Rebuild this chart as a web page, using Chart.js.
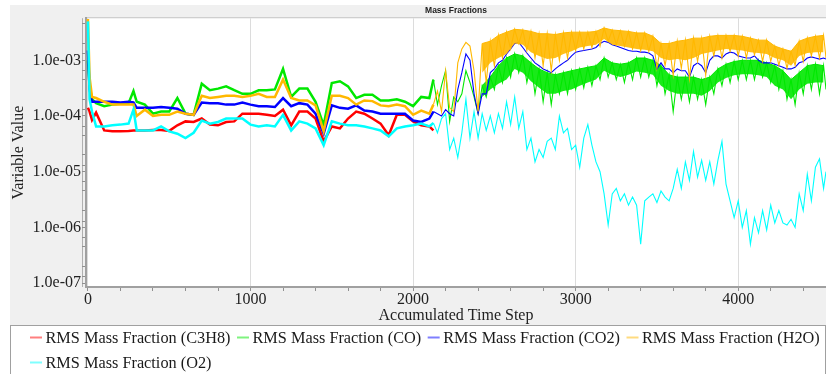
<!DOCTYPE html>
<html lang="en">
  <head>
    <meta charset="UTF-8" />
    <title>Mass Fractions</title>
    <script src="https://cdn.jsdelivr.net/npm/chart.js"></script>
    <style>
      html, body { margin: 0; padding: 0; background: #fff; }
    </style>
  </head>
  <body>
    <canvas id="massChart" width="826" height="374"></canvas>

    <script>
      // accumulated time steps (coarse before 2125, dense after)
      const steps = [
        0, 10, 25, 50, 100, 150, 200, 250, 280,
        300, 350, 400, 450, 500, 550, 600, 650,
        700, 750, 800, 850, 900, 950, 1000, 1050,
        1100, 1150, 1200, 1250, 1300, 1350, 1400, 1450,
        1500, 1550, 1600, 1650, 1700, 1750, 1800, 1850,
        1900, 1950, 2000, 2050, 2100,
        2125, 2150, 2175, 2200, 2225, 2250, 2275, 2300,
        2325, 2350, 2375, 2400, 2425, 2450, 2475, 2500,
        2525, 2550, 2575, 2600, 2625, 2650, 2675, 2700,
        2725, 2750, 2775, 2800, 2825, 2850, 2875, 2900,
        2925, 2950, 2975, 3000, 3025, 3050, 3075, 3100,
        3125, 3150, 3175, 3200, 3225, 3250, 3275, 3300,
        3325, 3350, 3375, 3400, 3425, 3450, 3475, 3500,
        3525, 3550, 3575, 3600, 3625, 3650, 3675, 3700,
        3725, 3750, 3775, 3800, 3825, 3850, 3875, 3900,
        3925, 3950, 3975, 4000, 4025, 4050, 4075, 4100,
        4125, 4150, 4175, 4200, 4225, 4250, 4275, 4300,
        4325, 4350, 4375, 4400, 4425, 4450, 4475, 4500,
        4525, 4540,
      ];

      // C3H8 stops after step 2125
      const c3h8 = [
        1.4e-4, 1.2e-4, 8.5e-5, 1.15e-4, 5.5e-5, 5.3e-5, 5.3e-5, 5.4e-5, 5.5e-5,
        5.5e-5, 5.5e-5, 5.6e-5, 5.6e-5, 5.4e-5, 6.8e-5, 8e-5, 7.8e-5,
        9e-5, 7e-5, 6.8e-5, 7.8e-5, 8e-5, 1.1e-4, 1.1e-4, 1.1e-4,
        1.05e-4, 1.0e-4, 1.3e-4, 6.8e-5, 1.2e-4, 1.2e-4, 9e-5, 3.5e-5,
        6.5e-5, 6e-5, 9e-5, 1.2e-4, 1.1e-4, 9e-5, 7.3e-5, 4.5e-5,
        1.05e-4, 1.05e-4, 8e-5, 6.8e-5, 6.5e-5,
        5.5e-5,
      ];

      const co = [
        1.0e-3, 3.5e-4, 2.0e-4, 1.7e-4, 1.5e-4, 1.6e-4, 1.65e-4, 1.7e-4, 2.8e-4,
        1.8e-4, 1.6e-4, 1.1e-4, 1.2e-4, 1.2e-4, 2.1e-4, 1.1e-4, 1.05e-4,
        3.8e-4, 2.9e-4, 3.1e-4, 3.4e-4, 2.9e-4, 2.5e-4, 2.5e-4, 2.9e-4,
        2.9e-4, 3.0e-4, 7e-4, 2.2e-4, 3.1e-4, 3.1e-4, 1.8e-4, 6.8e-5,
        3.9e-4, 4.2e-4, 3.4e-4, 2.1e-4, 2.4e-4, 2.4e-4, 1.9e-4, 1.9e-4,
        2.0e-4, 1.8e-4, 1.5e-4, 2.2e-4, 2.1e-4,
        4.5e-4, 1.6e-4, 3.5e-4, 6.5e-4, 8e-5, 2.2e-4, 1.8e-4, 2.5e-4,
        6.5e-4, 4e-4, 2.2e-4, 1.1e-4, 3.5e-4, 2.2e-4, 5e-4, 3e-4,
        8e-4, 4e-4, 1.1e-3, 5e-4, 1.3e-3, 6e-4, 1.2e-3, 4e-4,
        9e-4, 2.5e-4, 7e-4, 1.8e-4, 6e-4, 1.6e-4, 5.5e-4, 2.5e-4,
        6e-4, 2.5e-4, 6.5e-4, 3e-4, 7e-4, 3.2e-4, 7.5e-4, 3.5e-4,
        8e-4, 4.5e-4, 1.1e-3, 5e-4, 9e-4, 4.5e-4, 8.5e-4, 4e-4,
        9e-4, 4.5e-4, 1.1e-3, 5e-4, 1.1e-3, 5e-4, 1e-3, 3.5e-4,
        8e-4, 2.5e-4, 5.5e-4, 1.2e-4, 5e-4, 2e-4, 5e-4, 1.8e-4,
        5e-4, 2e-4, 4.5e-4, 1.6e-4, 5e-4, 2.5e-4, 7e-4, 3.5e-4,
        8.5e-4, 4e-4, 9.5e-4, 4.5e-4, 1e-3, 4.5e-4, 1e-3, 4.5e-4,
        1e-3, 5e-4, 9e-4, 4e-4, 8e-4, 3e-4, 6.5e-4, 2e-4,
        4.5e-4, 1.6e-4, 6e-4, 2.5e-4, 8e-4, 3e-4, 8.5e-4, 2.5e-4,
        8e-4, 3e-4,
      ];

      const co2 = [
        1.5e-3, 3e-4, 1.8e-4, 1.8e-4, 1.8e-4, 1.8e-4, 1.75e-4, 1.8e-4, 1.75e-4,
        1.4e-4, 1.4e-4, 1.4e-4, 1.45e-4, 1.4e-4, 1.35e-4, 1.1e-4, 1.05e-4,
        1.75e-4, 1.7e-4, 1.7e-4, 1.6e-4, 1.6e-4, 1.75e-4, 1.6e-4, 1.5e-4,
        1.5e-4, 1.45e-4, 2.1e-4, 1.5e-4, 1.7e-4, 1.6e-4, 1.1e-4, 4.8e-5,
        1.55e-4, 1.4e-4, 1.35e-4, 1.55e-4, 1.25e-4, 1.2e-4, 1.1e-4, 1.1e-4,
        1.1e-4, 1.1e-4, 8.3e-5, 7.8e-5, 9e-5,
        1.2e-4, 1.1e-4, 1.0e-4, 1.3e-4, 1.1e-4, 1.0e-4, 3e-4, 6e-4,
        1.3e-3, 1e-3, 2.5e-4, 1.1e-4, 2.5e-4, 2.5e-4, 6e-4, 7e-4,
        9e-4, 1.0e-3, 1.3e-3, 1.6e-3, 2.0e-3, 2.1e-3, 1.7e-3, 1.35e-3,
        1.1e-3, 9e-4, 8e-4, 7e-4, 6.5e-4, 6e-4, 7e-4, 8e-4,
        9e-4, 1.0e-3, 1.2e-3, 1.4e-3, 1.45e-3, 1.5e-3, 1.55e-3, 1.6e-3,
        1.7e-3, 2.0e-3, 2.2e-3, 2.1e-3, 1.9e-3, 1.8e-3, 1.7e-3, 1.6e-3,
        1.5e-3, 1.45e-3, 1.45e-3, 1.4e-3, 1.4e-3, 1.35e-3, 1.2e-3, 7e-4,
        9e-4, 7e-4, 7e-4, 6e-4, 7e-4, 6.5e-4, 6.5e-4, 5e-4,
        8e-4, 9e-4, 8e-4, 6e-4, 1.0e-3, 1.2e-3, 1.2e-3, 1.1e-3,
        1.3e-3, 1.4e-3, 1.35e-3, 1.2e-3, 1.15e-3, 1.1e-3, 1.1e-3, 1.2e-3,
        1.0e-3, 9e-4, 9e-4, 9e-4, 8.5e-4, 8e-4, 7.5e-4, 7e-4,
        7e-4, 7.5e-4, 9e-4, 9.5e-4, 1.1e-3, 1.15e-3, 1.1e-3, 1.05e-3,
        1.1e-3, 1.05e-3,
      ];

      const h2o = [
        5.5e-3, 5e-4, 2.2e-4, 2.1e-4, 1.8e-4, 1.6e-4, 1.6e-4, 1.6e-4, 1.6e-4,
        1.0e-4, 1.3e-4, 1.0e-4, 1.05e-4, 1.05e-4, 1.2e-4, 1.1e-4, 1.05e-4,
        2.3e-4, 2.1e-4, 2.2e-4, 2.3e-4, 2.3e-4, 2.2e-4, 2.3e-4, 2.5e-4,
        2.2e-4, 2.2e-4, 4.5e-4, 2.1e-4, 1.9e-4, 1.9e-4, 1.55e-4, 5.3e-5,
        2.3e-4, 2.3e-4, 2.1e-4, 1.6e-4, 1.9e-4, 1.85e-4, 1.55e-4, 1.5e-4,
        1.6e-4, 1.5e-4, 1.05e-4, 1.25e-4, 1.1e-4,
        1.6e-4, 2.8e-4, 1.2e-4, 6.5e-4, 1.4e-4, 1.2e-4, 9e-4, 1.6e-3,
        2.1e-3, 1.8e-3, 6.5e-4, 1.2e-4, 2.0e-3, 4e-4, 2.2e-3, 8e-4,
        2.8e-3, 1.1e-3, 3.2e-3, 1.6e-3, 3.6e-3, 2.0e-3, 3.5e-3, 1.5e-3,
        3.3e-3, 1.1e-3, 3.0e-3, 8e-4, 3.0e-3, 6.5e-4, 2.9e-3, 1.0e-3,
        3.1e-3, 1.1e-3, 3.2e-3, 1.5e-3, 3.2e-3, 1.6e-3, 3.2e-3, 1.7e-3,
        3.3e-3, 1.8e-3, 3.8e-3, 2.2e-3, 3.5e-3, 1.9e-3, 3.4e-3, 1.8e-3,
        3.3e-3, 1.6e-3, 3.1e-3, 1.5e-3, 3.1e-3, 1.45e-3, 2.7e-3, 7.2e-4,
        2.0e-3, 8.1e-4, 2.0e-3, 5.4e-4, 2.2e-3, 7.2e-4, 2.3e-3, 4.7e-4,
        2.5e-3, 9.6e-4, 2.5e-3, 5.4e-4, 2.7e-3, 1.2e-3, 2.8e-3, 1.1e-3,
        2.8e-3, 1.45e-3, 2.8e-3, 1.2e-3, 2.7e-3, 1.1e-3, 2.5e-3, 1.25e-3,
        2.3e-3, 9.6e-4, 2.3e-3, 9.6e-4, 1.8e-3, 8.1e-4, 1.6e-3, 7.2e-4,
        1.45e-3, 8.1e-4, 2.2e-3, 9.6e-4, 2.5e-3, 1.2e-3, 2.7e-3, 1.1e-3,
        2.8e-3, 1.1e-3,
      ];

      const o2 = [
        5e-3, 2e-4, 1.2e-4, 6.5e-5, 6.5e-5, 6.8e-5, 7e-5, 7.3e-5, 1.3e-4,
        5.5e-5, 5.5e-5, 5.5e-5, 6.5e-5, 5.3e-5, 4.8e-5, 4e-5, 5e-5,
        8.3e-5, 7.3e-5, 7.8e-5, 9e-5, 9e-5, 9e-5, 7e-5, 6.5e-5,
        6.8e-5, 6.5e-5, 1.05e-4, 5.5e-5, 8e-5, 7.3e-5, 6e-5, 3e-5,
        8e-5, 7.3e-5, 6.8e-5, 6.8e-5, 6.5e-5, 6e-5, 5.5e-5, 4.3e-5,
        6e-5, 6.5e-5, 6.8e-5, 7.3e-5, 6.5e-5,
        7.5e-5, 5e-5, 9e-5, 1.1e-4, 2.5e-5, 4e-5, 1.8e-5, 5e-5,
        2e-4, 4e-5, 1.2e-4, 4e-5, 1.1e-4, 5.5e-5, 1.0e-4, 5e-5,
        1.1e-4, 6e-5, 1.8e-4, 7e-5, 2.2e-4, 6e-5, 1.2e-4, 2.5e-5,
        4e-5, 1.5e-5, 2.5e-5, 1.8e-5, 3.5e-5, 4e-5, 2.5e-5, 1e-4,
        5e-5, 6e-5, 2.5e-5, 3e-5, 1.2e-5, 4e-5, 7e-5, 3e-5,
        1.5e-5, 1e-5, 4e-6, 1.1e-6, 4e-6, 5e-6, 3e-6, 4e-6,
        2.5e-6, 3.5e-6, 2.5e-6, 5e-7, 3e-6, 3.5e-6, 4e-6, 2.8e-6,
        4.5e-6, 3.5e-6, 3e-6, 5e-6, 1.1e-5, 5e-6, 1.5e-5, 7e-6,
        2.3e-5, 8e-6, 1.6e-5, 7e-6, 1.5e-5, 6e-6, 1.6e-5, 3.5e-5,
        6e-6, 3e-6, 1.5e-6, 3e-6, 1e-6, 2e-6, 5e-7, 1.5e-6,
        8e-7, 2e-6, 9e-7, 2.5e-6, 1.2e-6, 2e-6, 1.2e-6, 1.1e-6,
        1.4e-6, 1e-6, 4e-6, 2e-6, 9e-6, 3e-6, 1.2e-5, 1.7e-5,
        5e-6, 1e-5,
      ];

      // dense bands of H2O and CO after step 2400: upper edge and lower edge of the solid part
      const bandSteps = [
        2425, 2475, 2525, 2575, 2625, 2675, 2725, 2775, 2825, 2875, 2925,
        2975, 3025, 3075, 3125, 3175, 3225, 3275, 3325, 3375, 3425, 3475,
        3525, 3575, 3625, 3675, 3725, 3775, 3825, 3875, 3925, 3975, 4025,
        4075, 4125, 4175, 4225, 4275, 4325, 4375, 4425, 4475, 4525,
      ];
      const h2oTop = [
        2.0e-3, 2.2e-3, 2.8e-3, 3.2e-3, 3.6e-3, 3.5e-3, 3.3e-3, 3.0e-3, 3.0e-3, 2.9e-3, 3.1e-3,
        3.2e-3, 3.2e-3, 3.2e-3, 3.3e-3, 3.8e-3, 3.5e-3, 3.4e-3, 3.3e-3, 3.1e-3, 3.1e-3, 2.7e-3,
        2.0e-3, 2.0e-3, 2.2e-3, 2.3e-3, 2.5e-3, 2.5e-3, 2.7e-3, 2.8e-3, 2.8e-3, 2.8e-3, 2.7e-3,
        2.5e-3, 2.3e-3, 2.3e-3, 1.8e-3, 1.6e-3, 1.45e-3, 2.2e-3, 2.5e-3, 2.7e-3, 2.8e-3,
      ];
      const h2oBody = [
        6e-4, 9e-4, 1.1e-3, 1.3e-3, 2.0e-3, 1.9e-3, 1.4e-3, 1.2e-3, 1.05e-3, 1.1e-3, 1.3e-3,
        1.45e-3, 1.7e-3, 1.8e-3, 1.9e-3, 2.4e-3, 1.9e-3, 1.8e-3, 1.7e-3, 1.6e-3, 1.55e-3, 1.45e-3,
        1.1e-3, 1.0e-3, 1.05e-3, 1.0e-3, 1.1e-3, 1.3e-3, 1.4e-3, 1.5e-3, 1.6e-3, 1.55e-3, 1.5e-3,
        1.4e-3, 1.35e-3, 1.3e-3, 1.1e-3, 1.0e-3, 8e-4, 1.2e-3, 1.35e-3, 1.4e-3, 1.4e-3,
      ];
      const coTop = [
        3.5e-4, 5e-4, 8e-4, 1.1e-3, 1.3e-3, 1.2e-3, 9e-4, 7e-4, 6e-4, 5.5e-4, 6e-4,
        6.5e-4, 7e-4, 7.5e-4, 8e-4, 1.1e-3, 9e-4, 8.5e-4, 9e-4, 1.1e-3, 1.1e-3, 1e-3,
        8e-4, 5.5e-4, 5e-4, 5e-4, 5e-4, 4.5e-4, 5e-4, 7e-4, 8.5e-4, 9.5e-4, 1e-3,
        1e-3, 1e-3, 9e-4, 8e-4, 6.5e-4, 4.5e-4, 6e-4, 8e-4, 8.5e-4, 8e-4,
      ];
      const coBody = [
        2.2e-4, 3e-4, 3.8e-4, 4.5e-4, 7e-4, 6e-4, 4.2e-4, 3.2e-4, 2.5e-4, 2.5e-4, 2.8e-4,
        3e-4, 3.5e-4, 4e-4, 4.5e-4, 6.5e-4, 5.5e-4, 5e-4, 5.5e-4, 6.3e-4, 6e-4, 5.5e-4,
        3.5e-4, 2.8e-4, 2.5e-4, 2.5e-4, 2.5e-4, 2.3e-4, 2.8e-4, 4e-4, 4.8e-4, 5.4e-4, 5.6e-4,
        5.6e-4, 5.4e-4, 5e-4, 3.5e-4, 3e-4, 2e-4, 3e-4, 3.8e-4, 4e-4, 4e-4,
      ];

      const xTicks = [0, 200, 400, 600, 800, 1000, 1200, 1400, 1600, 1800, 2000, 2200,
        2400, 2600, 2800, 3000, 3200, 3400, 3600, 3800, 4000, 4200, 4400];
      const yTicks = [1e-7, 1e-6, 1e-5, 1e-4, 1e-3];
      const yMinorTicks = [
        1.3e-7, 2e-7, 4.5e-7, 6.6e-7,
        1.3e-6, 2e-6, 4.5e-6, 6.6e-6,
        1.3e-5, 2e-5, 4.5e-5, 6.6e-5,
        1.3e-4, 2e-4, 4.5e-4, 6.6e-4,
        1.3e-3, 2e-3, 4.5e-3,
      ];

      const denseFrom = 2125; // thinner strokes where the traces get noisy
      const serif = 'Liberation Serif';

      function points(xs, vals) {
        return xs.map((s, i) => ({ x: s, y: vals[i] === undefined ? null : vals[i] }));
      }

      function expLabel(value) {
        if (!yTicks.includes(value)) return '';
        const e = Math.round(Math.log10(value));
        return '1.0e' + (e < 0 ? '-' : '+') + String(Math.abs(e)).padStart(2, '0');
      }

      function series(label, vals, color, order) {
        return {
          label,
          data: points(steps, vals),
          borderColor: color,
          backgroundColor: color,
          borderWidth: 1.2,
          pointRadius: 0,
          fill: false,
          tension: 0,
          order,
          segment: {
            borderWidth: (ctx) => (ctx.p0.parsed.x >= denseFrom ? 1.1 : 2.5),
          },
        };
      }

      // band edges: the top one fills down to the next dataset (its body edge)
      function bandEdge(label, vals, color, fillColor, order, isTop) {
        return {
          label,
          inLegend: false,
          data: points(bandSteps, vals),
          borderColor: isTop ? color : 'rgba(0,0,0,0)',
          backgroundColor: fillColor,
          borderWidth: isTop ? 1 : 0,
          pointRadius: 0,
          tension: 0,
          order,
          fill: isTop ? '+1' : false,
        };
      }

      // panels behind the plot and the boxed legend
      const frame = {
        id: 'frame',
        beforeDraw(chart) {
          const { ctx, chartArea: a } = chart;
          ctx.save();
          ctx.fillStyle = '#ffffff';
          ctx.fillRect(0, 0, chart.width, chart.height);
          ctx.fillStyle = '#f0f0f0';
          ctx.fillRect(10, 5, chart.width - 10, 320);
          ctx.fillStyle = '#ffffff';
          ctx.fillRect(a.left, a.top, a.right - a.left, a.bottom - a.top);
          ctx.strokeStyle = '#c8c8c8';
          ctx.lineWidth = 1;
          ctx.strokeRect(a.left - 0.5, a.top - 0.5, a.right - a.left + 1, a.bottom - a.top + 1);
          ctx.strokeStyle = '#b0b0b0';
          ctx.beginPath();
          ctx.moveTo(a.left - 3.5, a.top);
          ctx.lineTo(a.left - 3.5, a.bottom);
          ctx.stroke();
          ctx.fillStyle = '#ffffff';
          ctx.fillRect(10, 325, chart.width - 10, 49);
          ctx.strokeStyle = '#a0a0a0';
          ctx.strokeRect(10.5, 325.5, chart.width - 11, 50);
          ctx.restore();
        },
        afterDraw(chart) {
          const ctx = chart.ctx;
          ctx.save();
          ctx.font = '16.3px "' + serif + '"';
          ctx.textBaseline = 'middle';
          let x = 30;
          let row = 0;
          chart.data.datasets.forEach((ds) => {
            if (ds.inLegend === false) return;
            const w = 15.5 + ctx.measureText(ds.label).width;
            if (x + w > chart.width - 4) {
              row++;
              x = 30;
            }
            const y = 338.5 + row * 25;
            ctx.globalAlpha = 0.5;
            ctx.strokeStyle = ds.borderColor;
            ctx.lineWidth = 2;
            ctx.beginPath();
            ctx.moveTo(x, y - 1);
            ctx.lineTo(x + 12, y - 1);
            ctx.stroke();
            ctx.globalAlpha = 1;
            ctx.fillStyle = '#1a1a1a';
            ctx.fillText(ds.label, x + 15.5, y);
            x += w + 6.5;
          });
          ctx.restore();
        },
      };

      const tickFont = { family: serif, size: 16, lineHeight: 1 };

      new Chart(document.getElementById('massChart'), {
        type: 'line',
        data: {
          datasets: [
            series('RMS Mass Fraction (C3H8)', c3h8, '#ff0000', 6),
            series('RMS Mass Fraction (CO)', co, '#00e800', 5),
            bandEdge('CO top', coTop, '#00e800', 'rgba(0,232,0,0.9)', 5, true),
            bandEdge('CO body', coBody, '#00e800', 'rgba(0,232,0,0.9)', 5, false),
            series('RMS Mass Fraction (CO2)', co2, '#0000ff', 4),
            series('RMS Mass Fraction (H2O)', h2o, '#ffb800', 2),
            bandEdge('H2O top', h2oTop, '#ffb800', 'rgba(255,184,0,0.9)', 2, true),
            bandEdge('H2O body', h2oBody, '#ffb800', 'rgba(255,184,0,0.9)', 2, false),
            series('RMS Mass Fraction (O2)', o2, '#00ffff', 0),
          ],
        },
        options: {
          responsive: false,
          animation: false,
          events: [],
          layout: { padding: { top: 5, left: 0, right: 0, bottom: 49 } },
          plugins: {
            legend: { display: false },
            tooltip: { enabled: false },
            title: {
              display: true,
              text: 'Mass Fractions',
              fullSize: false,
              color: '#222',
              font: { family: 'Liberation Sans', size: 8.5, weight: 'bold' },
              padding: { top: 1, bottom: 2 },
            },
          },
          scales: {
            x: {
              type: 'linear',
              min: -12,
              max: 4540,
              afterBuildTicks: (s) => {
                s.ticks = xTicks.map((v) => ({ value: v }));
              },
              afterFit: (s) => {
                s.height = 38;
              },
              ticks: {
                autoSkip: false,
                maxRotation: 0,
                padding: 1,
                color: '#222',
                font: tickFont,
                callback: (v) => (v % 1000 === 0 ? String(v) : ''),
              },
              grid: {
                color: (ctx) => (ctx.tick && ctx.tick.value % 1000 === 0 ? '#dcdcdc' : 'rgba(0,0,0,0)'),
                tickColor: '#909090',
                tickLength: 4,
              },
              border: { color: '#a0a0a0', width: 2 },
              title: {
                display: true,
                text: 'Accumulated Time Step',
                color: '#222',
                font: tickFont,
                padding: { top: 0, bottom: 1 },
              },
            },
            y: {
              type: 'logarithmic',
              min: 8.5e-8,
              max: 5.7e-3,
              afterBuildTicks: (s) => {
                s.ticks = yTicks.concat(yMinorTicks).sort((a, b) => a - b).map((v) => ({ value: v }));
              },
              afterFit: (s) => {
                s.width = 86;
              },
              ticks: {
                autoSkip: false,
                padding: 1,
                color: '#222',
                font: tickFont,
                callback: (v) => expLabel(v),
              },
              grid: { drawOnChartArea: false, tickColor: '#909090', tickLength: 4 },
              border: { color: '#a0a0a0', width: 2 },
              title: {
                display: true,
                text: 'Variable Value',
                color: '#222',
                font: tickFont,
                padding: { top: 11, bottom: 0 },
              },
            },
          },
        },
        plugins: [frame],
      });
    </script>
  </body>
</html>
